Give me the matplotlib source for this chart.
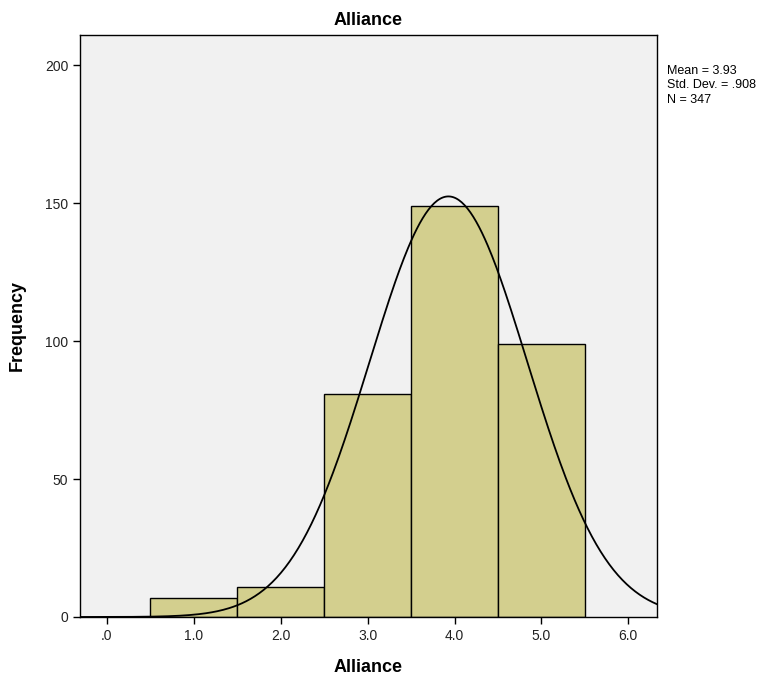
import numpy as np
import matplotlib.pyplot as plt

plt.rcParams['font.family'] = ['Liberation Sans', 'DejaVu Sans']

# histogram bins (bin edges) and counts
bin_edges = [0.5, 1.5, 2.5, 3.5, 4.5, 5.5]
counts = [7, 11, 81, 149, 99]
mean, sd, n = 3.93, 0.908, 347

x_ticks = [0, 1, 2, 3, 4, 5, 6]
x_labels = ['.0', '1.0', '2.0', '3.0', '4.0', '5.0', '6.0']
y_ticks = [0, 50, 100, 150, 200]

fig = plt.figure(figsize=(7.81, 6.85), dpi=100)
ax = fig.add_axes([0.1024, 0.0993, 0.7388, 0.8497])
ax.set_facecolor('#f1f1f1')

lefts = bin_edges[:-1]
widths = np.diff(bin_edges)
ax.bar(lefts, counts, width=widths, align='edge', color='#d3cf8e',
       edgecolor='black', linewidth=1.0, zorder=2)

# normal curve scaled to counts
xs = np.linspace(-0.31, 6.33, 400)
binw = widths[0]
ys = n * binw / (sd * np.sqrt(2 * np.pi)) * np.exp(-0.5 * ((xs - mean) / sd) ** 2)
ax.plot(xs, ys, color='black', linewidth=1.3, zorder=3)

ax.set_xlim(-0.31, 6.33)
ax.set_ylim(0, 211)
ax.set_xticks(x_ticks)
ax.set_xticklabels(x_labels, fontsize=10, color='#222222')
ax.set_yticks(y_ticks)
ax.set_yticklabels([str(v) for v in y_ticks], fontsize=10, color='#222222')
ax.tick_params(direction='out', length=5, width=1, colors='black', labelcolor='#222222')

for s in ax.spines.values():
    s.set_color('black')
    s.set_linewidth(1.0)

ax.set_title('Alliance', fontsize=13, fontweight='bold', pad=7)
ax.set_xlabel('Alliance', fontsize=13, fontweight='bold', labelpad=12)
ax.set_ylabel('Frequency', fontsize=13, fontweight='bold', labelpad=14)

fig.text(0.854, 0.905, 'Mean = 3.93\nStd. Dev. = .908\nN = 347',
         fontsize=9, va='top', ha='left', linespacing=1.25)

fig.savefig('out.png', dpi=100)
